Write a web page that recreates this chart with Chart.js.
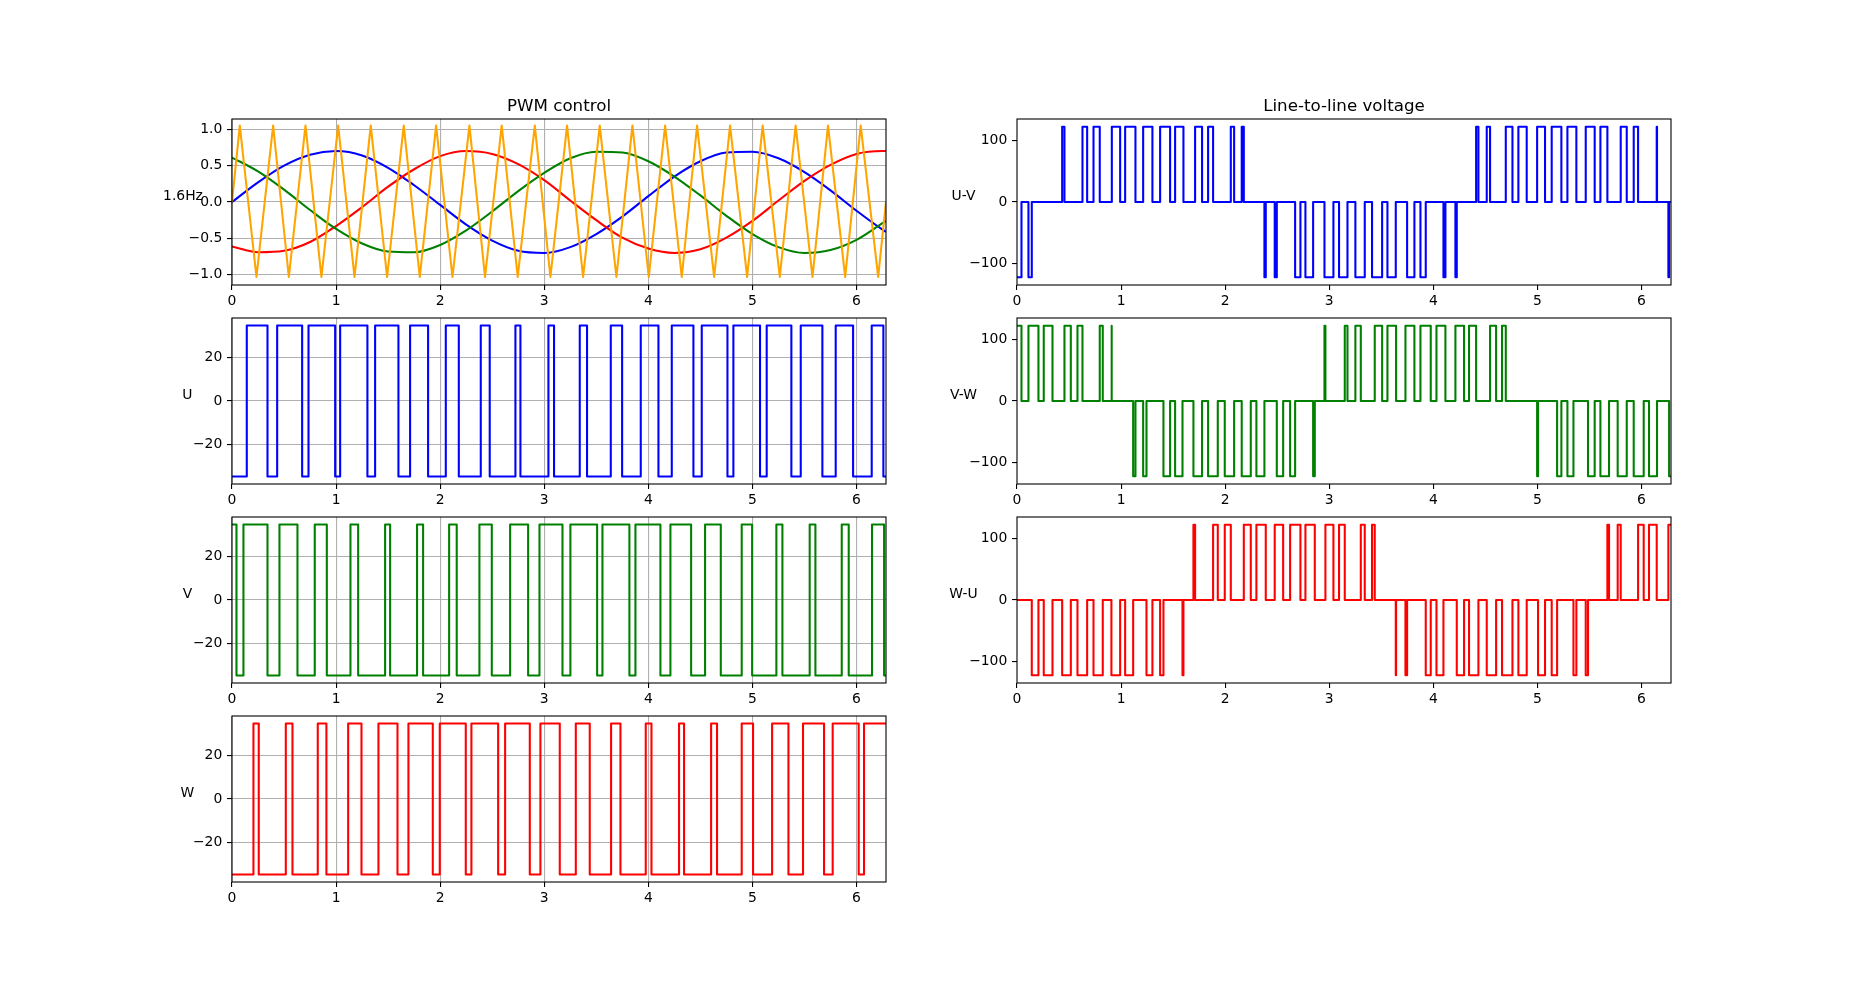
<!DOCTYPE html>
<html>
<head>
<meta charset="utf-8">
<title>PWM control / Line-to-line voltage</title>
<script src="https://cdn.jsdelivr.net/npm/chart.js@4.4.1/dist/chart.umd.min.js"></script>
<style>
  html, body { margin: 0; padding: 0; background: #fff; }
  #fig { position: relative; width: 1857px; height: 991px; overflow: hidden; }
  #fig canvas { position: absolute; }
</style>
</head>
<body>
<div id="fig"></div>
<script>
// ---- data ----
const T_END = 6.2832;

const X_TICKS = [0, 1, 2, 3, 4, 5, 6];
const PWM_TICKS = [-1, -0.5, 0, 0.5, 1];
const PHASE_TICKS = [-20, 0, 20];
const LINE_TICKS = [-100, 0, 100];

// reference sine waves (1.6Hz), sampled every 0.25
const SINE_T = [0, 0.25, 0.5, 0.75, 1, 1.25, 1.5, 1.75, 2, 2.25, 2.5, 2.75, 3, 3.25, 3.5,
  3.75, 4, 4.25, 4.5, 4.75, 5, 5.25, 5.5, 5.75, 6, 6.25, 6.283];
const REF_U = [0, 0.27, 0.50, 0.65, 0.70, 0.64, 0.47, 0.23, -0.04, -0.31, -0.53, -0.67, -0.70,
  -0.62, -0.44, -0.20, 0.08, 0.35, 0.56, 0.68, 0.69, 0.60, 0.41, 0.16, -0.12, -0.38, -0.41];
const REF_V = [0.61, 0.42, 0.17, -0.11, -0.37, -0.57, -0.68, -0.69, -0.59, -0.39, -0.13, 0.15, 0.40,
  0.60, 0.69, 0.68, 0.56, 0.35, 0.09, -0.19, -0.44, -0.62, -0.70, -0.66, -0.52, -0.29, -0.26];
const REF_W = [-0.61, -0.69, -0.67, -0.55, -0.33, -0.07, 0.21, 0.45, 0.63, 0.70, 0.66, 0.52, 0.30,
  0.02, -0.25, -0.49, -0.64, -0.70, -0.65, -0.49, -0.26, 0.02, 0.29, 0.51, 0.66, 0.70, 0.70];

// triangle carrier vertices
const CARRIER_T = [0, 0.075, 0.235, 0.395, 0.546, 0.706, 0.859, 1.020, 1.177, 1.333, 1.490,
  1.650, 1.804, 1.961, 2.118, 2.281, 2.431, 2.591, 2.745, 2.909, 3.059, 3.219, 3.373, 3.533,
  3.693, 3.847, 4.004, 4.161, 4.321, 4.468, 4.632, 4.785, 4.949, 5.098, 5.263, 5.415, 5.577,
  5.726, 5.891, 6.040, 6.208, 6.283];
const CARRIER_Y = [0, 1.05, -1.03, 1.05, -1.03, 1.05, -1.03, 1.05, -1.03, 1.05, -1.03,
  1.05, -1.03, 1.05, -1.03, 1.05, -1.03, 1.05, -1.03, 1.05, -1.03, 1.05, -1.03, 1.05,
  -1.03, 1.05, -1.03, 1.05, -1.03, 1.05, -1.03, 1.05, -1.03, 1.05, -1.03, 1.05, -1.03,
  1.05, -1.03, 1.05, -1.03, 0];

// switching instants of each phase (level toggles at each one)
const PHASE_AMP = 35;
const LINE_AMP = 122;
const U_START = -1;
const U_EDGES = [0.142, 0.341, 0.434, 0.674, 0.735, 0.991, 1.039, 1.301, 1.375, 1.599, 1.711,
  1.884, 2.054, 2.179, 2.390, 2.476, 2.723, 2.771, 3.040, 3.094, 3.341, 3.411, 3.639, 3.748,
  3.927, 4.097, 4.225, 4.433, 4.513, 4.760, 4.817, 5.073, 5.137, 5.374, 5.464, 5.672, 5.800,
  5.967, 6.146, 6.258];
const V_START = 1;
const V_EDGES = [0.043, 0.110, 0.341, 0.456, 0.629, 0.795, 0.911, 1.138, 1.212, 1.471, 1.519,
  1.778, 1.836, 2.086, 2.159, 2.377, 2.496, 2.672, 2.845, 2.954, 3.175, 3.251, 3.508, 3.559,
  3.818, 3.876, 4.116, 4.212, 4.411, 4.545, 4.696, 4.897, 4.997, 5.230, 5.288, 5.550, 5.605,
  5.858, 5.925, 6.149, 6.265];
const W_START = -1;
const W_EDGES = [0.206, 0.257, 0.517, 0.581, 0.824, 0.907, 1.116, 1.244, 1.407, 1.590, 1.695,
  1.929, 1.996, 2.246, 2.300, 2.557, 2.624, 2.861, 2.963, 3.149, 3.303, 3.437, 3.642, 3.732,
  3.975, 4.030, 4.295, 4.343, 4.603, 4.660, 4.897, 5.006, 5.189, 5.346, 5.486, 5.688, 5.771,
  6.021, 6.072];

// ---- layout (matplotlib 4x2 subplot grid) ----
const FONT = "'DejaVu Sans', 'Liberation Sans', sans-serif";
const FS = 13.9;
const COL_X = [232, 1017];
const ROW_Y = [119, 318, 517, 716];
const AX_W = 654, AX_H = 166;
const PAD_L = 90, PAD_T = 32, PAD_R = 14, PAD_B = 32;

const minus = (v, d) => (v < 0 ? "\u2212" : "") + (d == null ? String(Math.abs(v)) : Math.abs(v).toFixed(d));

function zip(xs, ys) {
  return xs.map((x, i) => ({ x, y: ys[i] }));
}

function levelAt(edges, start, t) {
  let s = start;
  for (const e of edges) if (e <= t) s = -s;
  return s;
}

// square wave with explicit corners
function stepPoints(times, valueAt) {
  const pts = [{ x: 0, y: valueAt(0) }];
  times.forEach((t) => {
    pts.push({ x: t, y: valueAt(t - 1e-9) });
    pts.push({ x: t, y: valueAt(t) });
  });
  pts.push({ x: T_END, y: valueAt(T_END) });
  return pts;
}

function phasePoints(edges, start) {
  return stepPoints(edges, (t) => levelAt(edges, start, t) * PHASE_AMP);
}

function linePoints(ea, sa, eb, sb) {
  const times = [...new Set([...ea, ...eb])].sort((a, b) => a - b);
  return stepPoints(times, (t) => (levelAt(ea, sa, t) - levelAt(eb, sb, t)) / 2 * LINE_AMP);
}

const framePlugin = {
  id: "frame",
  afterDatasetsDraw(chart) {
    const { ctx, chartArea: a } = chart;
    ctx.save();
    ctx.strokeStyle = "#000";
    ctx.lineWidth = 1.1;
    ctx.strokeRect(a.left, a.top, a.right - a.left, a.bottom - a.top);
    ctx.restore();
  },
  afterDraw(chart, args, opts) {
    const { ctx, chartArea: a } = chart;
    ctx.save();
    ctx.fillStyle = "#000";
    if (opts.title) {
      ctx.font = `16.7px ${FONT}`;
      ctx.textAlign = "center";
      ctx.textBaseline = "alphabetic";
      ctx.fillText(opts.title, (a.left + a.right) / 2, a.top - 8.3);
    }
    if (opts.ylabel) {
      ctx.font = `${FS}px ${FONT}`;
      let w = 0;
      chart.scales.y.ticks.forEach((t) => { w = Math.max(w, ctx.measureText(t.label).width); });
      ctx.textAlign = "center";
      ctx.textBaseline = "bottom";
      ctx.fillText(opts.ylabel, a.left - 9.7 - w - 5.6, (a.top + a.bottom) / 2 + 1);
    }
    ctx.restore();
  },
};

function makeAxes(col, row, datasets, y) {
  const canvas = document.createElement("canvas");
  canvas.width = PAD_L + AX_W + PAD_R;
  canvas.height = PAD_T + AX_H + PAD_B;
  canvas.style.left = (COL_X[col] - PAD_L) + "px";
  canvas.style.top = (ROW_Y[row] - PAD_T) + "px";
  document.getElementById("fig").appendChild(canvas);

  const grid = {
    display: true,
    drawOnChartArea: y.grid,
    color: "#b0b0b0",
    lineWidth: 1.1,
    tickColor: "#000",
    tickLength: 5,
    tickWidth: 1.1,
  };
  const tickFont = { family: FONT, size: FS };

  return new Chart(canvas, {
    type: "line",
    data: { datasets },
    options: {
      responsive: false,
      animation: false,
      layout: { padding: { top: PAD_T, right: PAD_R, left: 0, bottom: 0 } },
      plugins: {
        legend: { display: false },
        tooltip: { enabled: false },
        frame: { ylabel: y.label, title: y.title },
      },
      elements: { point: { radius: 0 }, line: { borderWidth: 2.08, tension: 0, borderJoinStyle: "round" } },
      scales: {
        x: {
          type: "linear",
          min: 0,
          max: T_END,
          afterFit: (s) => { s.height = PAD_B; },
          afterBuildTicks: (s) => { s.ticks = X_TICKS.map((v) => ({ value: v })); },
          grid,
          border: { display: false },
          ticks: { color: "#000", font: tickFont, padding: 3, maxRotation: 0, autoSkip: false, callback: (v) => String(v) },
        },
        y: {
          type: "linear",
          min: y.min,
          max: y.max,
          afterFit: (s) => { s.width = PAD_L; },
          afterBuildTicks: (s) => { s.ticks = y.ticks.map((v) => ({ value: v })); },
          grid,
          border: { display: false },
          ticks: { color: "#000", font: tickFont, padding: 4.7, autoSkip: false, callback: (v) => minus(v, y.digits) },
        },
      },
    },
    plugins: [framePlugin],
  });
}

const line = (data, color, extra = {}) => ({ data, borderColor: color, borderWidth: 2.08, pointRadius: 0, fill: false, ...extra });
const smooth = { cubicInterpolationMode: "monotone" };

const pwmAxis = { min: -1.14, max: 1.14, ticks: PWM_TICKS, digits: 1, grid: true, label: "1.6Hz", title: "PWM control" };
const phaseAxis = (label) => ({ min: -38.5, max: 38.5, ticks: PHASE_TICKS, grid: true, label });
const lineAxis = (label, title) => ({ min: -134.5, max: 134.5, ticks: LINE_TICKS, grid: false, label, title });

makeAxes(0, 0, [
  line(zip(CARRIER_T, CARRIER_Y), "orange"),
  line(zip(SINE_T, REF_V), "green", smooth),
  line(zip(SINE_T, REF_W), "red", smooth),
  line(zip(SINE_T, REF_U), "blue", smooth),
], pwmAxis);
makeAxes(0, 1, [line(phasePoints(U_EDGES, U_START), "blue")], phaseAxis("U"));
makeAxes(0, 2, [line(phasePoints(V_EDGES, V_START), "green")], phaseAxis("V"));
makeAxes(0, 3, [line(phasePoints(W_EDGES, W_START), "red")], phaseAxis("W"));

makeAxes(1, 0, [line(linePoints(U_EDGES, U_START, V_EDGES, V_START), "blue")], lineAxis("U-V", "Line-to-line voltage"));
makeAxes(1, 1, [line(linePoints(V_EDGES, V_START, W_EDGES, W_START), "green")], lineAxis("V-W"));
makeAxes(1, 2, [line(linePoints(W_EDGES, W_START, U_EDGES, U_START), "red")], lineAxis("W-U"));
</script>
</body>
</html>
